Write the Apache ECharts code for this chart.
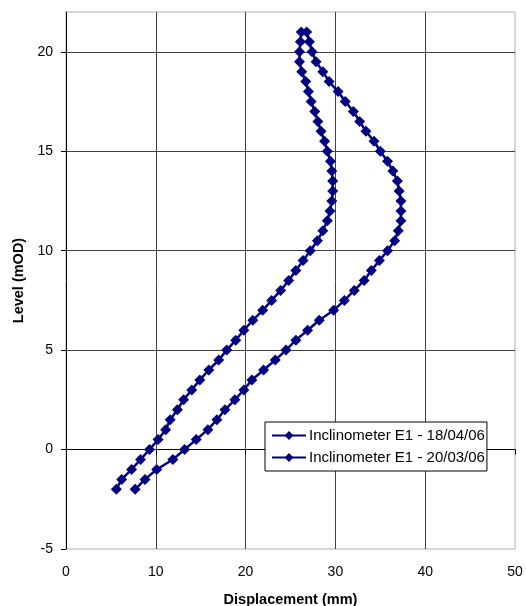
<!DOCTYPE html>
<html>
<head>
<meta charset="utf-8">
<script src="https://cdn.jsdelivr.net/npm/echarts@6/dist/echarts.min.js"></script>
<style>html,body{margin:0;padding:0;background:#fff;}#c{width:526px;height:606px;}</style>
</head>
<body>
<div id="c"></div>
<script>
const levels = [-2,-1.5,-1,-0.5,0,0.5,1,1.5,2,2.5,3,3.5,4,4.5,5,5.5,6,6.5,7,7.5,8,8.5,9,9.5,10,10.5,11,11.5,12,12.5,13,13.5,14,14.5,15,15.5,16,16.5,17,17.5,18,18.5,19,19.5,20,20.5,21];
const dispApr = [7.7,8.8,10.1,11.9,13.2,14.5,15.8,16.8,17.7,18.8,19.8,20.7,22.0,23.3,24.5,25.6,26.9,28.2,29.8,31.0,32.1,33.2,34.0,34.9,35.8,36.6,37.0,37.3,37.3,37.3,37.1,36.9,36.4,35.8,35.0,34.3,33.4,32.7,32.0,31.1,30.3,29.3,28.6,27.85,27.4,27.1,26.8];
const dispMar = [5.6,6.2,7.3,8.3,9.3,10.25,11.1,11.6,12.4,13.1,14.0,14.9,15.9,17.0,17.9,18.9,19.8,20.8,21.9,22.9,23.9,24.8,25.6,26.4,27.2,28.0,28.6,29.1,29.4,29.6,29.7,29.7,29.6,29.45,29.1,28.8,28.4,28.05,27.7,27.3,27.0,26.7,26.25,26.0,26.0,26.1,26.2];
const seriesNames = ['Inclinometer E1 - 18/04/06','Inclinometer E1 - 20/03/06'];
const xTicks = [0,10,20,30,40,50];
const yTicks = [-5,0,5,10,15,20];

const font = 'Liberation Sans, Arial, sans-serif';
function pairs(xs){ return xs.map((v,i)=>[v, levels[i]]); }
const chart = echarts.init(document.getElementById('c'), null, {renderer:'canvas'});
const mkSeries = (name, xs) => ({
  name, type:'line', data: pairs(xs), symbol:'diamond', symbolSize:11,
  lineStyle:{color:'#000080', width:2.5}, itemStyle:{color:'#000080'},
  showAllSymbol:true, animation:false, z:3
});
chart.setOption({
  animation:false,
  backgroundColor:'#fff',
  grid:{left:66, right:11, top:12, bottom:57, show:true, borderColor:'#b0b0b0', borderWidth:1, backgroundColor:'#fff',
    outerBoundsMode:'none', containLabel:false},
  xAxis:{
    type:'value', min:xTicks[0], max:xTicks[xTicks.length-1], interval:10,
    name:'Displacement (mm)', nameLocation:'middle', nameGap:43,
    nameTextStyle:{fontFamily:font, fontSize:14.5, fontWeight:'bold', color:'#000'},
    axisLine:{show:true, lineStyle:{color:'#000', width:1}},
    axisTick:{show:true, length:5, lineStyle:{color:'#000'}},
    axisLabel:{fontFamily:font, fontSize:14, color:'#000', margin:16},
    splitLine:{show:true, showMinLine:false, showMaxLine:false, lineStyle:{color:'#404040', width:1}}
  },
  yAxis:{
    type:'value', min:-5, max:22, interval:5,
    name:'Level (mOD)', nameLocation:'middle', nameGap:40,
    nameTextStyle:{fontFamily:font, fontSize:14.5, fontWeight:'bold', color:'#000'},
    axisLine:{show:true, lineStyle:{color:'#000', width:1}},
    axisTick:{show:true, length:5, lineStyle:{color:'#000'}},
    axisLabel:{fontFamily:font, fontSize:14, color:'#000', margin:13, showMaxLabel:false,
      formatter:(v)=> yTicks.includes(v) ? String(v) : ''},
    splitLine:{show:true, showMinLine:false, showMaxLine:false, lineStyle:{color:'#404040', width:1}}
  },
  legend:{
    orient:'vertical', left:265, top:422, itemWidth:34, itemHeight:11, itemGap:7,
    padding:[6,2,6,6],
    backgroundColor:'#fff', borderColor:'#000', borderWidth:1,
    textStyle:{fontFamily:font, fontSize:15, color:'#000', padding:[0,0,0,-2]},
    data: seriesNames
  },
  series:[ mkSeries(seriesNames[0], dispApr), mkSeries(seriesNames[1], dispMar) ]
});
</script>
</body>
</html>
